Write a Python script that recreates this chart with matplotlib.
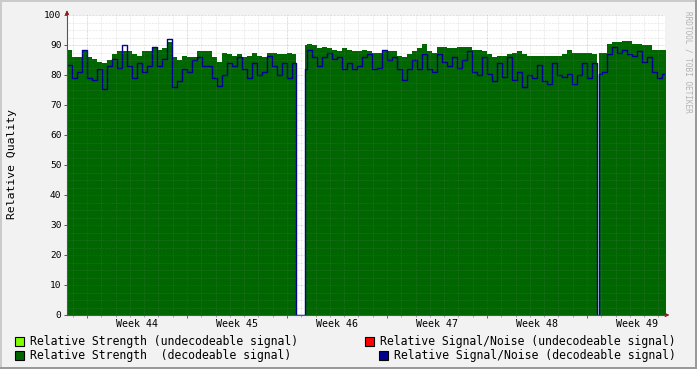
import matplotlib
matplotlib.use("Agg")
import matplotlib.pyplot as plt
import numpy as np
from matplotlib.patches import Rectangle

# samples every 8.4 h (0.35 day), time in days from the start of week 44
t_start = -1.4
t_step = 0.35
t_end = 40.46

# Relative Strength (decodeable signal)
strength = np.array([
    88.5, 86, 86, 88.5, 86, 85.5, 84.5, 84, 85, 87, 88, 88, 88, 87, 86.5, 88, 88, 89.5, 88.5, 89,
    91, 86, 85, 86.5, 86, 86, 88, 88, 88, 86, 84.5, 87.5, 87, 86.5, 87, 86, 86.5, 87.5, 86.5, 86,
    87.5, 87.5, 87, 87, 87.5, 87, 0, 90, 90.5, 90, 89, 89.5, 89, 88.5, 88, 89, 88.5, 88, 88, 88.5,
    88, 87.5, 87.5, 88.5, 88, 88, 86.5, 86, 87, 88, 89, 90.5, 88, 87.5, 89.5, 89.5, 89, 89, 89.5, 89.5,
    89.5, 88.5, 88.5, 88, 87, 86, 86.5, 86.5, 87, 87.5, 88, 87, 86.5, 86.5, 86.5, 86.5, 86.5, 86.5, 86.5, 87,
    88.5, 87.5, 87.5, 87.5, 87.5, 87, 87.5, 87.5, 90.5, 91, 91, 91.5, 91.5, 90.5, 90.5, 90, 90, 88.5, 88.5, 88.5,
])

# Relative Signal/Noise (decodeable signal)
snr = np.array([
    83.5, 79, 81, 88.5, 79, 78.5, 82, 75.5, 83, 85.5, 82.5, 90, 83, 79, 84, 81, 83, 89.5, 83, 85.5,
    92, 76, 78, 82, 81, 85, 86, 83, 83, 79, 76.5, 80, 84, 83, 86, 82, 79, 84, 80, 81,
    86.5, 83, 80, 84, 79, 84, 0, 82, 88.5, 86, 83, 86, 87.5, 85.5, 86, 82, 84, 82, 83, 86,
    87, 82, 82.5, 88.5, 85, 86, 82, 78.5, 82, 85, 82, 87, 82, 81, 87, 84.5, 83, 86, 82.5, 85,
    88, 81, 80, 86, 80.5, 78, 84, 79.5, 86, 78.5, 81, 76, 80, 79, 83.5, 78, 77, 84, 80, 79.5,
    80.5, 77, 80, 84, 79, 84, 80.5, 81, 87, 89.5, 87.5, 88.5, 87, 86.5, 88, 84.5, 86, 81, 79, 80.5,
])

# periods without data (days)
outages = [(14.63, 15.26), (35.70, 35.84)]

weeks = [44, 45, 46, 47, 48, 49]
week_starts = [0, 7, 14, 21, 28, 35]

BG = "#F2F2F2"
GREEN = "#006600"
NAVY = "#000090"
LIGHTGREEN = "#80FF00"
RED = "#FF0000"
W, H = 697, 369


def fx(x):
    return x / W


def fy(y):
    return 1 - y / H


# step-hold data on breakpoints, zero during outages
n = len(strength)
edges = t_start + t_step * np.arange(n + 1)
bp = np.unique(np.concatenate([edges, np.ravel(outages)]))
idx = np.clip(np.searchsorted(edges, bp, side="right") - 1, 0, n - 1)
s_v = strength[idx].astype(float)
q_v = snr[idx].astype(float)
for a, b in outages:
    m = (bp >= a) & (bp < b)
    s_v[m] = 0
    q_v[m] = 0

fig = plt.figure(figsize=(W / 100, H / 100), dpi=100, facecolor=BG)
ax = fig.add_axes([fx(67), fy(315), fx(598), 300 / H])
ax.set_facecolor("white")

ax.fill_between(bp, 0, s_v, step="post", color=GREEN, lw=0, zorder=2)
ax.step(bp, q_v, where="post", color=NAVY, lw=1.0, zorder=3)

ax.set_xlim(t_start, t_end)
ax.set_ylim(0, 100)

# grid drawn over the data, rrdtool style
dots = (0, (0.72, 1.0))
for d in np.arange(-1, 41):
    if d % 7 == 0:
        continue
    ax.axvline(d, color="#8C8C8C", alpha=0.3, lw=0.6, ls=dots, zorder=4)
for v in np.arange(2.5, 100, 2.5):
    if v % 10 == 0:
        continue
    ax.axhline(v, color="#8C8C8C", alpha=0.3, lw=0.6, ls=dots, zorder=4)
for d in week_starts:
    ax.axvline(d, color="#C04040", alpha=0.4, lw=0.6, ls=dots, zorder=4)
for v in range(10, 101, 10):
    ax.axhline(v, color="#C04040", alpha=0.4, lw=0.6, ls=dots, zorder=4)

for s in ["top", "right"]:
    ax.spines[s].set_visible(False)
for s in ["left", "bottom"]:
    ax.spines[s].set_color("#555555")
    ax.spines[s].set_linewidth(0.8)
    ax.spines[s].set_zorder(5)

ax.set_yticks(range(0, 101, 10))
ax.set_yticklabels([str(v) for v in range(0, 101, 10)], fontsize=6.8,
                   family="DejaVu Sans Mono")
ax.tick_params(axis="y", length=2.5, width=0.7, color="#555555", pad=1.5)
ax.set_xticks(week_starts)
ax.set_xticklabels([])
ax.set_xticks(np.arange(-1, 41), minor=True)
ax.tick_params(axis="x", which="major", length=2.5, width=0.7, color="#C04040")
ax.tick_params(axis="x", which="minor", length=1.5, width=0.6, color="#999999")

for wk, d in zip(weeks, week_starts):
    ax.text(d + 3.5, -3.0, f"Week {wk}", ha="center", va="center", fontsize=7.2,
            family="DejaVu Sans Mono", transform=ax.transData, clip_on=False)

# axis arrows
ax.annotate("", xy=(0, 1.025), xytext=(0, 0.99), xycoords="axes fraction",
            arrowprops=dict(arrowstyle="-|>", color="#8B1A1A", lw=0.6,
                            mutation_scale=6))
ax.annotate("", xy=(1.012, 0), xytext=(0.995, 0), xycoords="axes fraction",
            arrowprops=dict(arrowstyle="-|>", color="#8B1A1A", lw=0.6,
                            mutation_scale=6))

fig.text(fx(12), fy(164), "Relative Quality", rotation=90, ha="center",
         va="center", fontsize=8.2, family="DejaVu Sans Mono")
fig.text(fx(688), fy(62), "RRDTOOL / TOBI OETIKER", rotation=270, ha="center",
         va="center", fontsize=5.6, family="DejaVu Sans Mono", color="#B4B4B4")

# legend
legend = [
    (15, 341, LIGHTGREEN, "Relative Strength (undecodeable signal)"),
    (15, 355, GREEN, "Relative Strength  (decodeable signal)"),
    (365, 341, RED, "Relative Signal/Noise (undecodeable signal)"),
    (379, 355, NAVY, "Relative Signal/Noise (decodeable signal)"),
]
for x, y, c, label in legend:
    fig.patches.append(Rectangle((fx(x), fy(y + 4.5)), 9 / W, 9 / H,
                                 transform=fig.transFigure, facecolor=c,
                                 edgecolor="black", lw=0.8))
    fig.text(fx(x + 15), fy(y), label, ha="left", va="center", fontsize=8.3,
             family="DejaVu Sans Mono")

# 3d frame
fig.patches.append(Rectangle((0, 1 - 2 / H), 1, 2 / H, transform=fig.transFigure,
                             facecolor="#CBCBCB", lw=0))
fig.patches.append(Rectangle((0, 0), 2 / W, 1, transform=fig.transFigure,
                             facecolor="#CBCBCB", lw=0))
fig.patches.append(Rectangle((0, 0), 1, 2 / H, transform=fig.transFigure,
                             facecolor="#999999", lw=0))
fig.patches.append(Rectangle((1 - 2 / W, 0), 2 / W, 1, transform=fig.transFigure,
                             facecolor="#999999", lw=0))

fig.savefig("out.png", dpi=100, facecolor=BG)
